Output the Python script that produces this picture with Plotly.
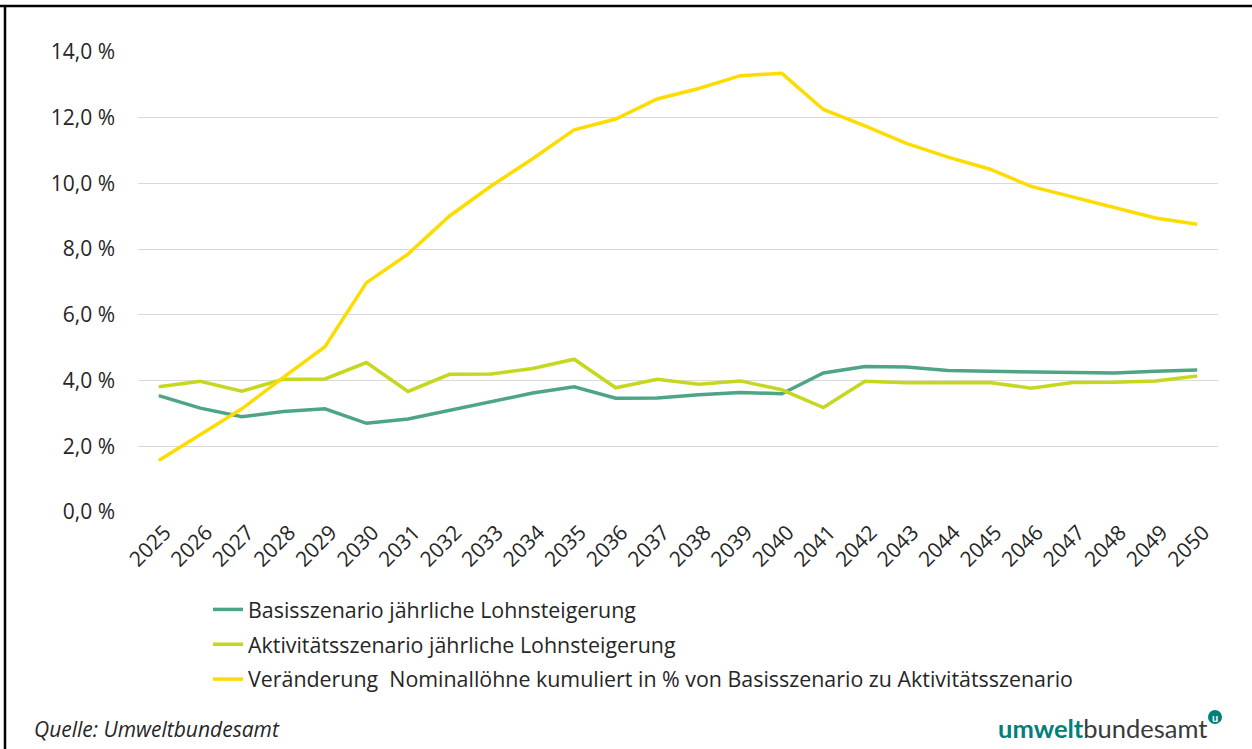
import plotly.graph_objects as go

years = [str(y) for y in range(2025, 2051)]

basis = [3.54, 3.16, 2.90, 3.06, 3.14, 2.70, 2.83, 3.09, 3.34, 3.62, 3.81, 3.46, 3.47,
         3.57, 3.64, 3.60, 4.23, 4.43, 4.41, 4.31, 4.28, 4.27, 4.26, 4.23, 4.28, 4.32]
aktiv = [3.81, 3.98, 3.68, 4.04, 4.05, 4.55, 3.67, 4.19, 4.20, 4.37, 4.65, 3.78, 4.04,
         3.89, 3.99, 3.72, 3.18, 3.98, 3.93, 3.94, 3.94, 3.77, 3.94, 3.95, 3.99, 4.14]
kumuliert = [1.57, 2.35, 3.14, 4.10, 5.03, 6.98, 7.85, 9.01, 9.92, 10.75, 11.63, 11.96, 12.57,
             12.89, 13.28, 13.35, 12.25, 11.75, 11.22, 10.80, 10.44, 9.91, 9.59, 9.28, 8.95, 8.76]

names = [
    "Basisszenario jährliche Lohnsteigerung",
    "Aktivitätsszenario jährliche Lohnsteigerung",
    "Veränderung  Nominallöhne kumuliert in % von Basisszenario zu Aktivitätsszenario",
]
colors = ["#4ea585", "#c5d81f", "#ffdc00"]

FONT = "Open Sans"
FS = 21
fig = go.Figure()
for i, (vals, name) in enumerate(zip([basis, aktiv, kumuliert], names)):
    fig.add_trace(go.Scatter(
        x=years, y=vals, name=name, mode="lines",
        line=dict(color=colors[i], width=3.5),
        legendgroup=f"g{i}",
    ))

W, H = 1252, 749
L, R, T, B = 138, 34, 52, 237
PW, PH = W - L - R, H - T - B


def px(x):
    return (x - L) / PW


def py(y):
    return (H - B - y) / PH


fig.update_layout(
    width=W, height=H,
    margin=dict(l=L, r=R, t=T, b=B, autoexpand=False),
    paper_bgcolor="white", plot_bgcolor="white",
    separators=",.",
    font=dict(family=FONT, size=FS, color="#262626"),
    showlegend=True,
    legend=dict(
        xref="paper", yref="paper",
        x=px(208), y=py(589), xanchor="left", yanchor="top",
        font=dict(family=FONT, size=21.4, color="#262626"),
        tracegroupgap=4, bgcolor="rgba(0,0,0,0)",
    ),
    xaxis=dict(
        type="category", range=[-0.5, 25.5], tickangle=-45, showgrid=False, showline=False,
        ticks="", tickfont=dict(size=FS, color="#262626"),
        ticklabelstandoff=3, ticklabelshift=6, automargin=False,
    ),
    yaxis=dict(
        range=[0, 14], dtick=2, tickformat=".1f", ticksuffix=" %",
        showgrid=True, gridcolor="#d9d9d9", gridwidth=1.3, zeroline=False,
        showline=False, ticks="", tickfont=dict(size=FS, color="#262626"),
        ticklabelstandoff=22, automargin=False,
    ),
)

# frame lines (top and left)
fig.add_shape(type="line", xref="paper", yref="paper", x0=px(0), x1=px(W + 5), y0=py(6), y1=py(6),
              line=dict(color="black", width=2.5))
fig.add_shape(type="line", xref="paper", yref="paper", x0=px(5), x1=px(5), y0=py(5), y1=py(H + 5),
              line=dict(color="black", width=2.5))

fig.add_annotation(
    xref="paper", yref="paper", x=px(32), y=py(729),
    text="<i>Quelle: Umweltbundesamt</i>", showarrow=False, xanchor="left", yanchor="middle",
    font=dict(family=FONT, size=21, color="#262626"),
)
fig.add_annotation(
    xref="paper", yref="paper", x=px(1209), y=py(728),
    text="<span style='color:#00807b;font-weight:bold'>umwelt</span>bundesamt",
    showarrow=False, xanchor="right", yanchor="middle",
    font=dict(family="Lato", size=25.5, color="#3a3a3a"),
)
fig.add_shape(type="circle", xref="paper", yref="paper",
              x0=px(1208), x1=px(1222), y0=py(724), y1=py(710),
              fillcolor="#00807b", line=dict(width=0))
fig.add_annotation(
    xref="paper", yref="paper", x=px(1215), y=py(717),
    text="<b>u</b>", showarrow=False, xanchor="center", yanchor="middle",
    font=dict(family="Lato", size=11, color="white"),
)

fig.write_html(
    "out.html",
    config={"displayModeBar": False},
    post_script="document.body.style.margin='0';document.body.style.overflow='hidden';",
)
